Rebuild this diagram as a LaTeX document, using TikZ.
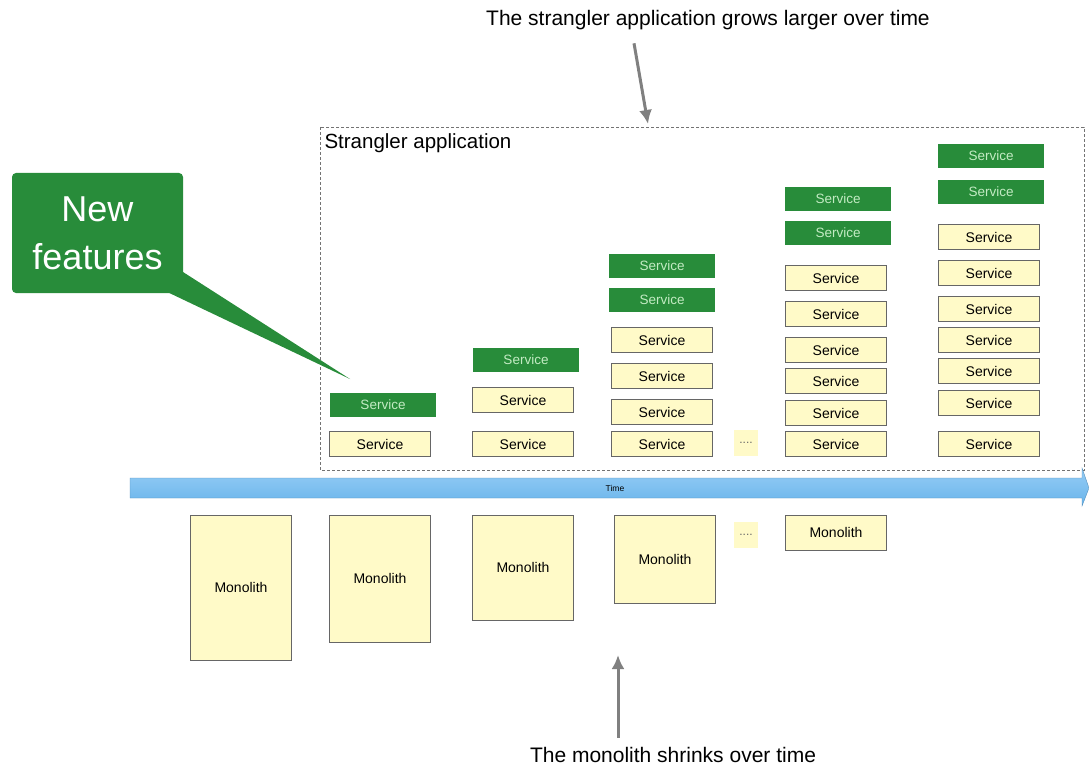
\documentclass[tikz,border=0pt]{standalone}
\usepackage{fontspec}
\setmainfont{Liberation Sans}
\usetikzlibrary{arrows.meta,positioning,calc}

\definecolor{svcyellow}{RGB}{255,250,200}
\definecolor{svcgreen}{RGB}{40,140,58}
\definecolor{svctext}{RGB}{195,235,195}
\definecolor{timeblue}{RGB}{105,180,235}
\definecolor{timelight}{RGB}{150,205,245}

\tikzset{
    svc/.style={draw=black!60, fill=svcyellow, minimum width=101pt, minimum height=25pt,
        inner sep=0pt, font=\fontsize{14}{16}\selectfont},
    newsvc/.style={fill=svcgreen, text=svctext, minimum width=106pt, minimum height=24pt,
        inner sep=0pt, font=\fontsize{13.5}{16}\selectfont},
    mono/.style={draw=black!60, fill=svcyellow, minimum width=101pt, inner sep=0pt,
        font=\fontsize{14}{16}\selectfont},
    dots/.style={fill=svcyellow, minimum width=24pt, minimum height=26pt, inner sep=0pt,
        text=black!60, font=\fontsize{12}{14}\selectfont},
    grayarrow/.style={draw=black!50, line width=3pt, -{Latex[length=14pt,width=13pt]}}
}

\begin{document}
\begin{tikzpicture}[x=1pt,y=-1pt]
    \useasboundingbox (0,0) rectangle (1089,767);

    % Strangler application
    \draw[black!55, dash pattern=on 3pt off 2pt] (320,127) rectangle (1084,470);
    \node[anchor=west, font=\fontsize{20.5}{23}\selectfont] (strangler) at (321,143) {Strangler application};

    % Services, column by column
    \node[svc] (c1s1) at (380,444) {Service};
    \node[newsvc] (c1n1) at (383,405) {Service};

    \foreach \y [count=\i] in {444,400}
        \node[svc] (c2s\i) at (523,\y) {Service};
    \node[newsvc] (c2n1) at (526,360) {Service};

    \foreach \y [count=\i] in {444,412,376,340}
        \node[svc] (c3s\i) at (662,\y) {Service};
    \foreach \y [count=\i] in {300,266}
        \node[newsvc] (c3n\i) at (662,\y) {Service};

    \node[dots] (sdots) at (746,443) {....};

    \foreach \y [count=\i] in {444,413,381,350,314,278}
        \node[svc] (c4s\i) at (836,\y) {Service};
    \foreach \y [count=\i] in {233,199}
        \node[newsvc] (c4n\i) at (838,\y) {Service};

    \foreach \y [count=\i] in {444,403,371,340,309,273,237}
        \node[svc] (c5s\i) at (989,\y) {Service};
    \foreach \y [count=\i] in {192,156}
        \node[newsvc] (c5n\i) at (991,\y) {Service};

    % Time axis
    \shade[top color=timelight, bottom color=timeblue, draw=timeblue!80!black, line width=0.4pt]
        (130,478) -- (1082,478) -- (1082,468) -- (1089,488) -- (1082,506) -- (1082,498) -- (130,498) -- cycle;
    \node[font=\fontsize{8.5}{10}\selectfont] (time) at (615,488) {Time};

    % Monoliths
    \node[mono, minimum height=145pt] (m1) at (241,587.5) {Monolith};
    \node[mono, minimum height=127pt] (m2) at (380,578.5) {Monolith};
    \node[mono, minimum height=105pt] (m3) at (523,567.5) {Monolith};
    \node[mono, minimum height=88pt] (m4) at (665,559) {Monolith};
    \node[dots] (mdots) at (746,535) {....};
    \node[mono, minimum height=35pt] (m5) at (836,532.5) {Monolith};

    % New features callout
    \fill[svcgreen] (163,290) -- (350,379) -- (183,272) -- cycle;
    \node[fill=svcgreen, rounded corners=4pt, minimum width=171pt, minimum height=120pt,
        text=white, align=center, font=\fontsize{36}{48}\selectfont] (newfeat) at (97.5,233) {New\\features};

    % Captions
    \node[font=\fontsize{21}{24}\selectfont] (title) at (708,20) {The strangler application grows larger over time};
    \coordinate (growtip) at (648,124);
    \draw[grayarrow] ([xshift=-74pt,yshift=-10pt]title.south) -- (growtip);

    \node[font=\fontsize{21}{24}\selectfont] (shrink) at (673,755) {The monolith shrinks over time};
    \coordinate (shrinktip) at (618,655);
    \draw[grayarrow] ([xshift=-55pt,yshift=6pt]shrink.north) -- (shrinktip);
\end{tikzpicture}
\end{document}
